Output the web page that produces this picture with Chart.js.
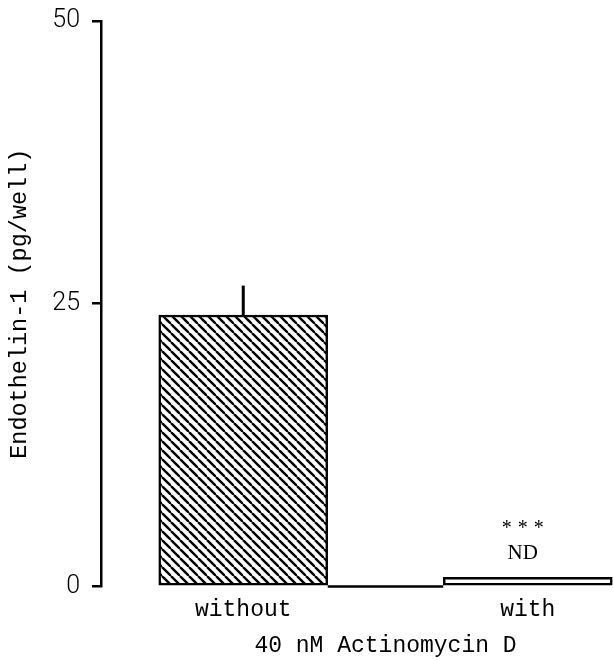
<!DOCTYPE html>
<html>
<head>
<meta charset="utf-8">
<script src="https://cdn.jsdelivr.net/npm/chart.js@4/dist/chart.umd.min.js"></script>
<style>
  html, body { margin: 0; padding: 0; background: #fff; overflow: hidden; }
  #wrap { width: 613px; height: 660px; overflow: hidden; }
</style>
</head>
<body>
<div id="wrap"><canvas id="chart" width="670" height="660"></canvas></div>
<script>
const categories = ['without', 'with'];
const values = [24, 0.8];
const errors = [2.6, 0];
const sigLabels = ['', '***'];
const ndLabels = ['', 'ND'];
const yTicks = [0, 25, 50];
const xTitle = '40 nM Actinomycin D';
const yTitle = 'Endothelin-1 (pg/well)';

const mono = "'Liberation Mono', 'DejaVu Sans Mono', monospace";
const thin = "Roboto, 'Open Sans', sans-serif";
const serif = "'Liberation Serif', 'DejaVu Serif', serif";

function hatch() {
  let s = 9;
  let c = document.createElement('canvas');
  c.width = s; c.height = s;
  let g = c.getContext('2d');
  g.fillStyle = '#fff';
  g.fillRect(0, 0, s, s);
  g.strokeStyle = '#000';
  g.lineWidth = 2.4;
  for (let x of [-s, 0, s]) {
    g.beginPath();
    g.moveTo(x, 0);
    g.lineTo(x + s, s);
    g.stroke();
  }
  return g.createPattern(c, 'repeat');
}

// error bar, baseline between bars, and the *** / ND notes
const extras = {
  id: 'extras',
  afterDatasetsDraw(chart) {
    let ctx = chart.ctx;
    let y = chart.scales.y;
    let bars = chart.getDatasetMeta(0).data;
    ctx.save();
    ctx.strokeStyle = '#000';
    ctx.lineCap = 'butt';

    // baseline between the two bars
    let y0 = y.getPixelForValue(0);
    ctx.lineWidth = 2.5;
    ctx.beginPath();
    ctx.moveTo(bars[0].x + bars[0].width / 2, y0);
    ctx.lineTo(bars[1].x - bars[1].width / 2, y0);
    ctx.stroke();

    bars.forEach((b, i) => {
      if (errors[i]) {
        ctx.lineWidth = 3;
        ctx.beginPath();
        ctx.moveTo(b.x, y.getPixelForValue(values[i]));
        ctx.lineTo(b.x, y.getPixelForValue(values[i] + errors[i]));
        ctx.stroke();
      }
      let top = y.getPixelForValue(values[i]);
      ctx.fillStyle = '#000';
      ctx.textAlign = 'center';
      ctx.textBaseline = 'middle';
      if (ndLabels[i]) {
        ctx.font = '21px ' + serif;
        ctx.fillText(ndLabels[i], b.x - 5, top - 24);
      }
      if (sigLabels[i]) {
        ctx.font = '20px ' + serif;
        ctx.letterSpacing = '6px';
        ctx.fillText(sigLabels[i], b.x - 2, top - 49);
        ctx.letterSpacing = '0px';
      }
    });
    ctx.restore();
  }
};

let chart = new Chart(document.getElementById('chart'), {
  type: 'bar',
  data: {
    labels: categories,
    datasets: [{
      data: values,
      backgroundColor: [hatch(), '#fff'],
      borderColor: '#000',
      borderWidth: 2.5,
      borderSkipped: false,
      barThickness: 169
    }]
  },
  options: {
    responsive: false,
    animation: false,
    layout: { padding: { top: 21, left: 0, right: 0, bottom: 0 } },
    plugins: { legend: { display: false }, tooltip: { enabled: false } },
    scales: {
      x: {
        grid: { display: false, drawTicks: false },
        border: { display: false },
        ticks: { color: '#000', font: { family: mono, size: 23 }, padding: 10 },
        title: {
          display: true, text: xTitle, color: '#000',
          font: { family: mono, size: 23, lineHeight: 1 }, padding: { top: 0, bottom: 3 }
        }
      },
      y: {
        min: 0, max: 50,
        afterBuildTicks: s => { s.ticks = yTicks.map(v => ({ value: v })); },
        afterFit: s => { s.width = 101; },
        grid: { drawOnChartArea: false, color: '#000', lineWidth: 2.5, tickLength: 9 },
        border: { color: '#000', width: 2.5 },
        ticks: { color: '#000', font: { family: thin, size: 25, weight: 300, lineHeight: 0.5 }, padding: 12 },
        title: {
          display: true, text: yTitle, color: '#000',
          font: { family: mono, size: 23.5 }, padding: { top: 6, bottom: 0 }
        }
      }
    }
  },
  plugins: [extras]
});
</script>
</body>
</html>
